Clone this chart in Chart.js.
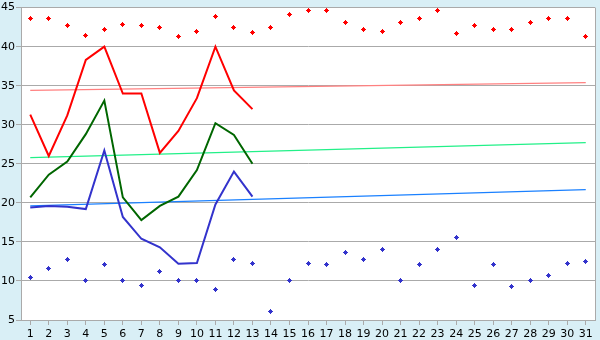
<!DOCTYPE html>
<html><head><meta charset="utf-8">
<script src="https://cdn.jsdelivr.net/npm/chart.js@4"></script>
<style>html,body{margin:0;padding:0;background:#d9eff6;overflow:hidden}</style>
</head><body>
<canvas id="c" width="600" height="340" style="display:block;width:600px;height:340px"></canvas>
<script>
const days = ['1','2','3','4','5','6','7','8','9','10','11','12','13','14','15','16','17','18','19','20','21','22','23','24','25','26','27','28','29','30','31'];
const highDots = [43.6,43.6,42.7,41.4,42.2,42.8,42.7,42.4,41.3,42.0,43.8,42.5,41.8,42.5,44.1,44.6,44.6,43.1,42.2,42.0,43.1,43.6,44.6,41.7,42.7,42.2,42.2,43.1,43.6,43.6,41.3];
const lowDots = [10.4,11.6,12.8,10.0,12.1,10.0,9.4,11.2,10.0,10.0,8.9,12.8,12.2,6.1,10.0,12.2,12.1,13.6,12.8,14.0,10.0,12.1,14.0,15.6,9.4,12.1,9.3,10.0,10.7,12.2,12.5];
const redLine = [31.3,26.0,31.2,38.3,40.0,34.0,34.0,26.4,29.2,33.4,40.0,34.4,32.0];
const greenLine = [20.7,23.6,25.3,28.8,33.1,20.7,17.8,19.6,20.8,24.2,30.2,28.7,25.0];
const blueLine = [19.4,19.6,19.5,19.2,26.7,18.2,15.4,14.3,12.2,12.3,19.8,24.0,20.8];
const redTrend = [34.4,35.4];
const greenTrend = [25.8,27.7];
const blueTrend = [19.6,21.7];
const yTicks = [5,10,15,20,25,30,35,40,45];

function marker(color){
  const c=document.createElement('canvas'); c.width=5; c.height=5;
  const g=c.getContext('2d'); g.fillStyle=color;
  g.fillRect(2,0,1,5); g.fillRect(1,1,3,3); g.fillRect(0,2,5,1);
  return c;
}
function trend(v){ return [{x:days[0],y:v[0]},{x:days[days.length-1],y:v[1]}]; }

const bgPlugin = {
  id:'bg',
  beforeDraw(chart){
    const {ctx, chartArea:a} = chart;
    ctx.save();
    ctx.fillStyle='#d9eff6'; ctx.fillRect(0,0,chart.width,chart.height);
    ctx.fillStyle='#ffffff'; ctx.fillRect(a.left,a.top,a.right-a.left,a.bottom-a.top);
    ctx.restore();
  },
  beforeDatasetsDraw(chart){ chart.ctx.imageSmoothingEnabled=false; },
  afterDraw(chart){
    const {ctx, chartArea:a} = chart;
    ctx.save(); ctx.strokeStyle='#aaaaaa'; ctx.lineWidth=1;
    const x=Math.round(a.right)+0.5;
    ctx.beginPath(); ctx.moveTo(x,a.top); ctx.lineTo(x,a.bottom); ctx.stroke();
    ctx.restore();
  }
};

const font = {family:'"DejaVu Sans", Verdana, sans-serif', size:11};
new Chart(document.getElementById('c'), {
  type:'line',
  data:{
    labels: days,
    datasets:[
      {data:highDots, showLine:false, pointStyle:marker('#ff0000'), pointRadius:3, borderColor:'#ff0000', backgroundColor:'#ff0000'},
      {data:lowDots, showLine:false, pointStyle:marker('#3333cc'), pointRadius:3, borderColor:'#3333cc', backgroundColor:'#3333cc'},
      {data:redLine, borderColor:'#ff0000', borderWidth:2, pointRadius:0, tension:0},
      {data:greenLine, borderColor:'#006600', borderWidth:2, pointRadius:0, tension:0},
      {data:blueLine, borderColor:'#3333cc', borderWidth:2, pointRadius:0, tension:0},
      {data:trend(redTrend), borderColor:'#ff8080', borderWidth:1.2, pointRadius:0},
      {data:trend(greenTrend), borderColor:'#22f088', borderWidth:1.2, pointRadius:0},
      {data:trend(blueTrend), borderColor:'#1a80ff', borderWidth:1.2, pointRadius:0}
    ]
  },
  options:{
    responsive:false, animation:false, devicePixelRatio:1,
    layout:{padding:{left:0,right:5,top:5,bottom:0}},
    plugins:{legend:{display:false}, tooltip:{enabled:false}},
    scales:{
      x:{type:'category', offset:true,
        grid:{drawOnChartArea:false, drawTicks:true, tickLength:5, color:'#aaaaaa'},
        border:{color:'#aaaaaa'},
        ticks:{font, color:'#000', padding:3, autoSkip:false, maxRotation:0},
        afterFit(s){ s.height=20; }
      },
      y:{min:5, max:45,
        afterBuildTicks(s){ s.ticks = yTicks.map(v=>({value:v})); },
        grid:{color:'#aaaaaa', tickLength:5},
        border:{color:'#aaaaaa'},
        ticks:{font, color:'#000', padding:1},
        afterFit(s){ s.width=21; }
      }
    }
  },
  plugins:[bgPlugin]
});
</script>
</body></html>
